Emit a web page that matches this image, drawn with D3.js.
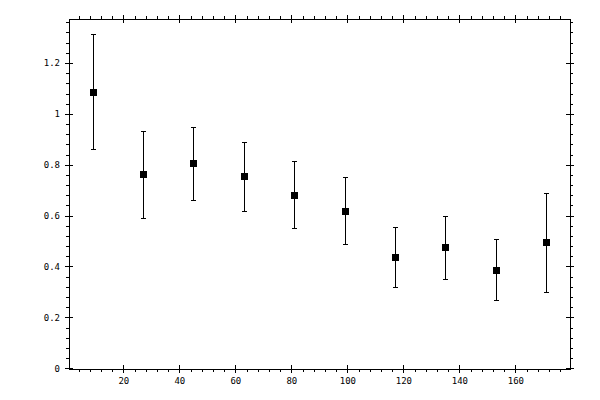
<!DOCTYPE html>
<html>
<head>
<meta charset="utf-8">
<script src="https://cdn.jsdelivr.net/npm/d3@7"></script>
<style>
  body { margin: 0; background: #fff; }
  .tick text { font-family: "DejaVu Sans Mono", monospace; font-size: 9px; fill: #000; }
</style>
</head>
<body>
<script>
// Binned means with error bars

let binCenters = [9, 27, 45, 63, 81, 99, 117, 135, 153, 171];
let means      = [1.087, 0.762, 0.805, 0.754, 0.683, 0.620, 0.436, 0.475, 0.385, 0.495];
let lowers     = [0.861, 0.589, 0.660, 0.620, 0.550, 0.487, 0.320, 0.350, 0.267, 0.299];
let uppers     = [1.313, 0.934, 0.948, 0.889, 0.816, 0.752, 0.554, 0.597, 0.507, 0.687];

let xTicks = [20, 40, 60, 80, 100, 120, 140, 160];
let yTicks = [0, 0.2, 0.4, 0.6, 0.8, 1, 1.2];

let svgWidth = 600;
let svgHeight = 400;

let margin = { top: 19, right: 30, bottom: 31, left: 69 };
let width = svgWidth - margin.left - margin.right;
let height = svgHeight - margin.top - margin.bottom;

let svg = d3.select("body")
            .append("svg")
            .attr("width", svgWidth)
            .attr("height", svgHeight);

let chartGroup = svg.append("g")
                    .attr("transform", `translate(${margin.left}, ${margin.top})`);

let xScale = d3.scaleLinear().domain([0.6, 179.5]).range([0, width]);
let yScale = d3.scaleLinear().domain([-0.003, 1.373]).range([height, 0]);

let xMinor = d3.range(4, 180, 4).filter(v => v % 20 !== 0);
let yMinor = d3.range(0.04, 1.37, 0.04).filter(v => Math.abs(v * 5 - Math.round(v * 5)) > 1e-6);

// draw one side: minor ticks outward, major ticks crossing the line
function drawSide(axisFn, scale, majors, minors, transform, labels) {
    let g = chartGroup.append("g").attr("transform", transform);
    // minor outward
    g.append("g")
     .call(axisFn(scale).tickValues(minors).tickSize(3).tickFormat("").tickSizeOuter(0))
     .call(s => s.select(".domain").remove());
    // major outward (with labels)
    g.append("g")
     .call(axisFn(scale).tickValues(majors).tickSize(4).tickPadding(5).tickSizeOuter(0)
           .tickFormat(labels ? d3.format("") : ""))
     .call(s => s.select(".domain").remove());
    // major inward
    g.append("g")
     .call(axisFn(scale).tickValues(majors).tickSize(-4).tickFormat("").tickSizeOuter(0))
     .call(s => s.select(".domain").remove());
    g.selectAll("line").attr("stroke", "#000").attr("shape-rendering", "crispEdges");
}

drawSide(d3.axisBottom, xScale, xTicks, xMinor, `translate(0, ${height})`, true);
drawSide(d3.axisTop, xScale, xTicks, xMinor, "translate(0, 0)", false);
drawSide(d3.axisLeft, yScale, yTicks, yMinor, "translate(0, 0)", true);
drawSide(d3.axisRight, yScale, yTicks, yMinor, `translate(${width}, 0)`, false);

// frame
chartGroup.append("rect")
          .attr("x", 0.5)
          .attr("y", 0.5)
          .attr("width", width)
          .attr("height", height)
          .attr("fill", "none")
          .attr("stroke", "#000")
          .attr("shape-rendering", "crispEdges");

// error bars
let bars = chartGroup.selectAll(".err")
                     .data(binCenters)
                     .enter()
                     .append("g")
                     .attr("class", "err")
                     .attr("stroke", "#000")
                     .attr("shape-rendering", "crispEdges");

bars.append("line")
    .attr("x1", d => Math.round(xScale(d)) + 0.5)
    .attr("x2", d => Math.round(xScale(d)) + 0.5)
    .attr("y1", (d, i) => yScale(lowers[i]))
    .attr("y2", (d, i) => yScale(uppers[i]));

bars.append("line")
    .attr("x1", d => Math.round(xScale(d)) - 2)
    .attr("x2", d => Math.round(xScale(d)) + 3)
    .attr("y1", (d, i) => Math.round(yScale(uppers[i])) + 0.5)
    .attr("y2", (d, i) => Math.round(yScale(uppers[i])) + 0.5);

bars.append("line")
    .attr("x1", d => Math.round(xScale(d)) - 2)
    .attr("x2", d => Math.round(xScale(d)) + 3)
    .attr("y1", (d, i) => Math.round(yScale(lowers[i])) + 0.5)
    .attr("y2", (d, i) => Math.round(yScale(lowers[i])) + 0.5);

// markers
chartGroup.selectAll(".pt")
          .data(binCenters)
          .enter()
          .append("rect")
          .attr("class", "pt")
          .attr("x", d => Math.round(xScale(d)) - 3)
          .attr("y", (d, i) => Math.round(yScale(means[i])) - 3)
          .attr("width", 7)
          .attr("height", 7)
          .attr("fill", "#000")
          .attr("shape-rendering", "crispEdges");
</script>
</body>
</html>
